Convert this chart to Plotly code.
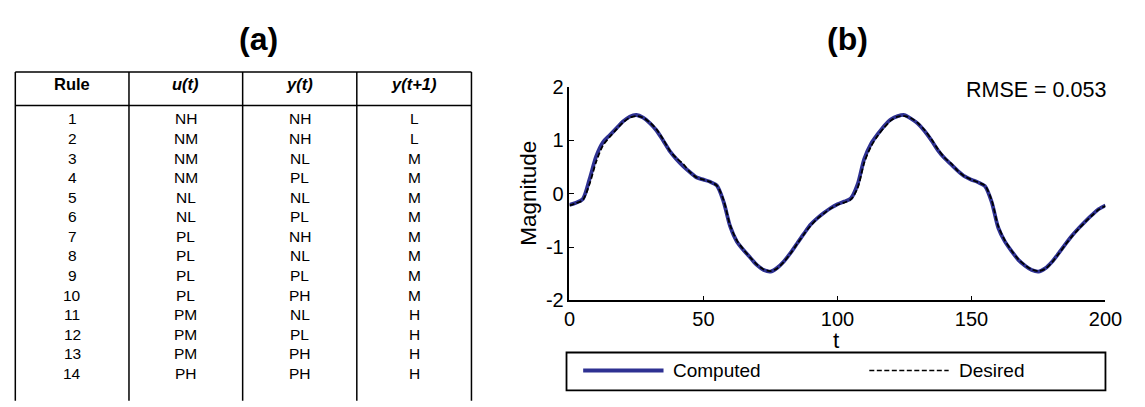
import plotly.graph_objects as go

# ---- rule table (a) ----
table_header = ["Rule", "u(t)", "y(t)", "y(t+1)"]
rule_ids = ["1", "2", "3", "4", "5", "6", "7", "8", "9", "10", "11", "12", "13", "14"]
u_t = ["NH", "NM", "NM", "NM", "NL", "NL", "PL", "PL", "PL", "PL", "PM", "PM", "PM", "PH"]
y_t = ["NH", "NH", "NL", "PL", "NL", "PL", "NH", "NL", "PL", "PH", "NL", "PL", "PH", "PH"]
y_t1 = ["L", "L", "M", "M", "M", "M", "M", "M", "M", "M", "H", "H", "H", "H"]

# ---- time response (b) ----
t = [i * 2.5 for i in range(81)]
computed = [
    -0.21, -0.17, -0.10, 0.27, 0.70, 0.96, 1.09, 1.22, 1.35, 1.44,
    1.47, 1.42, 1.32, 1.18, 0.99, 0.79, 0.64, 0.51, 0.40, 0.30,
    0.26, 0.22, 0.15, -0.15, -0.62, -0.90, -1.06, -1.20, -1.34, -1.43,
    -1.46, -1.39, -1.27, -1.11, -0.93, -0.75, -0.58, -0.46, -0.36, -0.27,
    -0.20, -0.15, -0.09, 0.17, 0.65, 0.93, 1.11, 1.27, 1.39, 1.45,
    1.47, 1.40, 1.31, 1.17, 1.00, 0.81, 0.66, 0.54, 0.42, 0.32,
    0.26, 0.21, 0.14, -0.15, -0.64, -0.90, -1.08, -1.24, -1.35, -1.43,
    -1.46, -1.40, -1.28, -1.12, -0.95, -0.79, -0.65, -0.52, -0.40, -0.29,
    -0.22,
]
desired = [
    -0.22, -0.18, -0.12, 0.18, 0.60, 0.90, 1.06, 1.20, 1.33, 1.42,
    1.45, 1.42, 1.33, 1.20, 1.01, 0.80, 0.66, 0.55, 0.40, 0.30,
    0.26, 0.22, 0.15, -0.12, -0.60, -0.88, -1.05, -1.20, -1.33, -1.42,
    -1.45, -1.40, -1.28, -1.12, -0.94, -0.76, -0.60, -0.47, -0.37, -0.28,
    -0.21, -0.17, -0.11, 0.10, 0.58, 0.88, 1.08, 1.24, 1.37, 1.44,
    1.45, 1.41, 1.32, 1.19, 1.02, 0.83, 0.67, 0.56, 0.42, 0.32,
    0.26, 0.21, 0.15, -0.12, -0.61, -0.88, -1.07, -1.23, -1.34, -1.42,
    -1.45, -1.41, -1.29, -1.13, -0.96, -0.80, -0.66, -0.53, -0.41, -0.30,
    -0.23,
]
x_ticks = [0, 50, 100, 150, 200]
y_ticks = [-2, -1, 0, 1, 2]
y_tick_text = ["-2", "-1", "0", "1", "2"]
rmse_label = "RMSE = 0.053"

W, H = 1145, 407
FONT = "Liberation Sans, Arial, Helvetica, sans-serif"
BLUE = "#2e3192"
DASH = "5px,2.5px"


def px(x):
    return x / W


def py(y):
    return 1 - y / H


fig = go.Figure()
fig.add_trace(go.Scatter(x=t, y=computed, mode="lines", name="Computed",
                         line=dict(color=BLUE, width=3.8, shape="spline", smoothing=0.8)))
fig.add_trace(go.Scatter(x=t, y=desired, mode="lines", name="Desired",
                         line=dict(color="black", width=1.8, dash=DASH,
                                   shape="spline", smoothing=0.8)))

shapes = []
annotations = []

# table frame: top rule, header rule and column separators
tbl_left, tbl_right = 9.5, 475
col_edges = [9.5, 125.5, 241.5, 358, 475]
shapes.append(dict(type="line", xref="paper", yref="paper",
                   x0=px(tbl_left), x1=px(tbl_right), y0=py(64.5), y1=py(64.5),
                   line=dict(color="black", width=1.5)))
shapes.append(dict(type="line", xref="paper", yref="paper",
                   x0=px(tbl_left), x1=px(tbl_right), y0=py(100), y1=py(100),
                   line=dict(color="black", width=1.5)))
for xe in col_edges:
    shapes.append(dict(type="line", xref="paper", yref="paper",
                       x0=px(xe), x1=px(xe), y0=py(64.5), y1=py(H + 5),
                       line=dict(color="black", width=1.5)))

col_centers = [(col_edges[i] + col_edges[i + 1]) / 2 for i in range(4)]
for i, h in enumerate(table_header):
    txt = "<b>%s</b>" % h if i == 0 else "<b><i>%s</i></b>" % h
    annotations.append(dict(x=px(col_centers[i]), y=py(77), xref="paper", yref="paper",
                            text=txt, showarrow=False, xanchor="center", yanchor="middle",
                            font=dict(family=FONT, size=16.5, color="black")))
columns = [rule_ids, u_t, y_t, y_t1]
for r in range(len(rule_ids)):
    yc = 114 + r * 20.7
    for c, col in enumerate(columns):
        annotations.append(dict(x=px(col_centers[c]), y=py(yc), xref="paper", yref="paper",
                                text=col[r], showarrow=False, xanchor="center",
                                yanchor="middle",
                                font=dict(family=FONT, size=15.5, color="black")))

# panel labels
annotations.append(dict(x=px(258), y=py(30), xref="paper", yref="paper", text="<b>(a)</b>",
                        showarrow=False, xanchor="center", yanchor="middle",
                        font=dict(family=FONT, size=32, color="black")))
annotations.append(dict(x=px(859), y=py(30), xref="paper", yref="paper", text="<b>(b)</b>",
                        showarrow=False, xanchor="center", yanchor="middle",
                        font=dict(family=FONT, size=32, color="black")))

# axis titles and RMSE note
annotations.append(dict(x=px(533), y=py(193), xref="paper", yref="paper", text="Magnitude",
                        textangle=-90, showarrow=False, xanchor="center", yanchor="middle",
                        font=dict(family=FONT, size=22.5, color="black")))
annotations.append(dict(x=px(848), y=py(348), xref="paper", yref="paper", text="t",
                        showarrow=False, xanchor="center", yanchor="middle",
                        font=dict(family=FONT, size=22.5, color="black")))
annotations.append(dict(x=px(1125), y=py(83), xref="paper", yref="paper", text=rmse_label,
                        showarrow=False, xanchor="right", yanchor="middle",
                        font=dict(family=FONT, size=21.5, color="black")))

# legend box
shapes.append(dict(type="rect", xref="paper", yref="paper",
                   x0=px(572), x1=px(1122), y0=py(361), y1=py(401),
                   line=dict(color="black", width=1.8), fillcolor="white"))
shapes.append(dict(type="line", xref="paper", yref="paper",
                   x0=px(589), x1=px(671), y0=py(380), y1=py(380),
                   line=dict(color=BLUE, width=4)))
shapes.append(dict(type="line", xref="paper", yref="paper",
                   x0=px(881), x1=px(962), y0=py(380), y1=py(380),
                   line=dict(color="black", width=1.6, dash=DASH)))
annotations.append(dict(x=px(679), y=py(380), xref="paper", yref="paper", text="Computed",
                        showarrow=False, xanchor="left", yanchor="middle",
                        font=dict(family=FONT, size=19, color="black")))
annotations.append(dict(x=px(971), y=py(380), xref="paper", yref="paper", text="Desired",
                        showarrow=False, xanchor="left", yanchor="middle",
                        font=dict(family=FONT, size=19, color="black")))

fig.update_layout(
    width=W, height=H,
    margin=dict(l=0, r=0, t=0, b=0),
    paper_bgcolor="white", plot_bgcolor="white",
    showlegend=False,
    shapes=shapes,
    annotations=annotations,
    xaxis=dict(domain=[px(575), px(1122)], range=[0, 200], tickvals=x_ticks,
               showline=True, linecolor="black", linewidth=1.5, ticks="inside",
               ticklen=5, tickwidth=1.2, tickcolor="black", showgrid=False,
               zeroline=False, tickfont=dict(family=FONT, size=20, color="black")),
    yaxis=dict(domain=[py(306), py(80)], range=[-2, 2], tickvals=y_ticks,
               ticktext=y_tick_text,
               showline=True, linecolor="black", linewidth=1.5, ticks="inside",
               ticklen=5, tickwidth=1.2, tickcolor="black", showgrid=False,
               zeroline=False, tickfont=dict(family=FONT, size=20, color="black")),
)

# the page body gets no default margin so the figure fills the window exactly
fig.write_html("out.html", post_script="document.body.style.margin='0';")
